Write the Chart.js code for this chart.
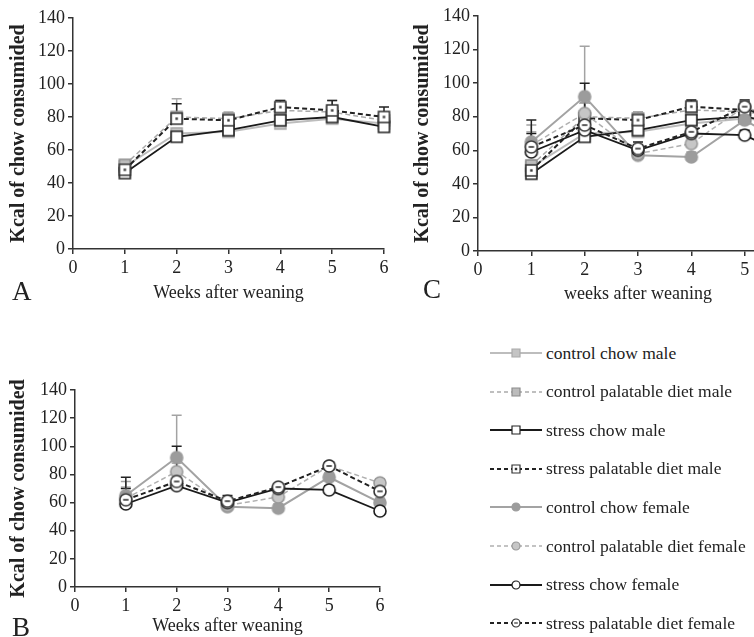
<!DOCTYPE html>
<html>
<head>
<meta charset="utf-8">
<script src="https://cdn.jsdelivr.net/npm/chart.js@4.4.1/dist/chart.umd.min.js"></script>
<style>
body { margin: 0; width: 754px; height: 637px; overflow: hidden; background: #fff; position: relative;
       font-family: "Liberation Serif", "DejaVu Serif", serif; }
canvas { position: absolute; }
.letter { position: absolute; font-size: 27px; color: #222; line-height: 1; }
.row { position: absolute; left: 490px; height: 24px; display: flex; align-items: center;
       white-space: nowrap; font-size: 17.5px; color: #222; }
.row canvas { position: static; margin-right: 4px; }
</style>
</head>
<body>
<canvas id="chartA" width="400" height="310" style="left:0;top:0"></canvas>
<canvas id="chartB" width="400" height="277" style="left:0;top:360px"></canvas>
<canvas id="chartC" width="420" height="310" style="left:400px;top:0"></canvas>
<div class="letter" style="left:12px;top:278px">A</div>
<div class="letter" style="left:12px;top:614px">B</div>
<div class="letter" style="left:423px;top:276px">C</div>
<div id="legend"></div>

<script>
// weeks after weaning
const WEEKS = [1, 2, 3, 4, 5, 6];

// mean kcal per week
const controlChowMale     = [50, 70, 71, 76, 79, 76];
const controlPalMale      = [51, 80, 79, 84, 83, 78];
const stressChowMale      = [46, 68, 72, 78, 80, 74];
const stressPalMale       = [48, 79, 78, 86, 84, 80];
const controlChowFemale   = [65, 92, 57, 56, 78, 60];
const controlPalFemale    = [63, 82, 58, 64, 86, 74];
const stressChowFemale    = [59, 72, 60, 70, 69, 54];
const stressPalFemale     = [62, 75, 61, 71, 86, 68];

// upper error (SEM)
const errControlChowMale   = [2, 3, 2, 2, 2, 2];
const errControlPalMale    = [2, 11, 4, 6, 7, 5];
const errStressChowMale    = [2, 2, 2, 2, 2, 2];
const errStressPalMale     = [2, 9, 3, 4, 6, 6];
const errControlChowFemale = [10, 30, 3, 3, 3, 3];
const errControlPalFemale  = [8, 6, 3, 3, 3, 3];
const errStressChowFemale  = [11, 4, 3, 2, 3, 2];
const errStressPalFemale   = [16, 25, 4, 2, 3, 3];

const X_MIN = 0, X_MAX = 6, X_STEP = 1;
const Y_MIN = 0, Y_MAX = 140, Y_STEP = 20;

const Y_TITLE = 'Kcal of chow consumided';
const FONT = '"Liberation Serif", "DejaVu Serif", serif';

const LIGHT = '#bdbdbd';
const MID = '#a3a3a3';
const DARK = '#1a1a1a';

// series styles
const SERIES = [
    { label: 'control chow male', data: controlChowMale, err: errControlChowMale, male: true,
      color: LIGHT, dash: [], width: 2, marker: { shape: 'sq', fill: '#c4c4c4', stroke: '#aaaaaa' } },
    { label: 'control palatable diet male', data: controlPalMale, err: errControlPalMale, male: true,
      color: '#aaaaaa', dash: [5, 3], width: 1.5, marker: { shape: 'sq', fill: '#bcbcbc', stroke: '#8c8c8c' } },
    { label: 'stress chow male', data: stressChowMale, err: errStressChowMale, male: true,
      color: DARK, dash: [], width: 1.8, marker: { shape: 'sq', fill: '#ffffff', stroke: '#222222' } },
    { label: 'stress palatable diet male', data: stressPalMale, err: errStressPalMale, male: true,
      color: '#222222', dash: [5, 3], width: 2, marker: { shape: 'sq', fill: '#ffffff', stroke: '#333333', inner: 'dot' } },
    { label: 'control chow female', data: controlChowFemale, err: errControlChowFemale, male: false,
      color: MID, dash: [], width: 2, marker: { shape: 'ci', fill: '#9c9c9c', stroke: '#9c9c9c' } },
    { label: 'control palatable diet female', data: controlPalFemale, err: errControlPalFemale, male: false,
      color: '#b0b0b0', dash: [5, 3], width: 1.5, marker: { shape: 'ci', fill: '#c6c6c6', stroke: '#999999' } },
    { label: 'stress chow female', data: stressChowFemale, err: errStressChowFemale, male: false,
      color: DARK, dash: [], width: 1.8, marker: { shape: 'ci', fill: '#ffffff', stroke: '#1a1a1a' } },
    { label: 'stress palatable diet female', data: stressPalFemale, err: errStressPalFemale, male: false,
      color: '#222222', dash: [5, 3], width: 2, marker: { shape: 'ci', fill: '#ffffff', stroke: '#333333', inner: 'dash' } },
];

// draw a marker onto its own small canvas (used as pointStyle and in the legend)
function makeMarker(m, size) {
    const pad = 2;
    const c = document.createElement('canvas');
    c.width = c.height = Math.ceil(size + pad * 2);
    const ctx = c.getContext('2d');
    const mid = c.width / 2, r = size / 2;
    ctx.lineWidth = size > 10 ? 1.6 : 1.2;
    ctx.beginPath();
    if (m.shape === 'sq') ctx.rect(mid - r, mid - r, size, size);
    else ctx.arc(mid, mid, r, 0, Math.PI * 2);
    ctx.fillStyle = m.fill;
    ctx.fill();
    ctx.strokeStyle = m.stroke;
    ctx.stroke();
    if (m.inner === 'dot') {
        ctx.fillStyle = m.stroke;
        ctx.fillRect(mid - 1.2, mid - 1.2, 2.4, 2.4);
    }
    if (m.inner === 'dash') {
        ctx.beginPath();
        ctx.moveTo(mid - r * 0.45, mid);
        ctx.lineTo(mid + r * 0.45, mid);
        ctx.stroke();
    }
    return c;
}

// error bars (upper only), drawn under the markers
const errorBars = {
    id: 'errorBars',
    beforeDatasetsDraw(chart) {
        const ctx = chart.ctx;
        const xs = chart.scales.x, ys = chart.scales.y;
        ctx.save();
        chart.data.datasets.forEach(ds => {
            ctx.strokeStyle = ds.borderColor;
            ctx.lineWidth = 1.5;
            ds.data.forEach((p, i) => {
                const x = xs.getPixelForValue(p.x);
                const y0 = ys.getPixelForValue(p.y);
                const y1 = ys.getPixelForValue(p.y + ds.err[i]);
                ctx.beginPath();
                ctx.moveTo(x, y0);
                ctx.lineTo(x, y1);
                ctx.moveTo(x - 5, y1);
                ctx.lineTo(x + 5, y1);
                ctx.stroke();
            });
        });
        ctx.restore();
    }
};

function buildDatasets(list) {
    return list.map((s, i) => ({
        label: s.label,
        data: WEEKS.map((w, k) => ({ x: w, y: s.data[k] })),
        err: s.err,
        borderColor: s.color,
        borderWidth: s.width,
        borderDash: s.dash,
        pointStyle: makeMarker(s.marker, s.marker.shape === 'sq' ? 11 : 12),
        pointRadius: 6,
        tension: 0,
        fill: false,
        clip: false,
        order: list.length - i   // stress groups end up on top
    }));
}

function makeChart(id, list, cfg) {
    const axisColor = '#333';
    new Chart(document.getElementById(id), {
        type: 'line',
        data: { datasets: buildDatasets(list) },
        options: {
            responsive: false,
            animation: false,
            layout: { padding: cfg.padding },
            plugins: { legend: { display: false }, tooltip: { enabled: false } },
            scales: {
                x: {
                    type: 'linear', min: X_MIN, max: X_MAX,
                    ticks: { stepSize: X_STEP, color: '#222', padding: 3, maxRotation: 0,
                             font: { family: FONT, size: 18 } },
                    grid: { drawOnChartArea: false, drawTicks: true, tickLength: 5, color: axisColor, lineWidth: 1.5 },
                    border: { display: true, color: axisColor, width: 1.5 },
                    title: { display: true, text: cfg.xTitle, color: '#222',
                             font: { family: FONT, size: 18 }, padding: { top: 0, bottom: cfg.xTitlePad } },
                    afterFit(scale) { scale.height = cfg.xHeight; }
                },
                y: {
                    min: Y_MIN, max: Y_MAX,
                    ticks: { stepSize: Y_STEP, color: '#222', padding: 3,
                             font: { family: FONT, size: 18 } },
                    grid: { drawOnChartArea: false, drawTicks: true, tickLength: 5, color: axisColor, lineWidth: 1.5 },
                    border: { display: true, color: axisColor, width: 1.5 },
                    title: { display: true, text: Y_TITLE, color: '#222',
                             font: { family: FONT, size: 20, weight: 'bold' }, padding: { top: cfg.yTitlePad, bottom: 0 } },
                    afterFit(scale) { scale.width = cfg.yWidth; }
                }
            }
        },
        plugins: [errorBars]
    });
}

makeChart('chartA', SERIES.filter(s => s.male), {
    padding: { top: 18, right: 16, left: 0, bottom: 0 },
    xTitle: 'Weeks after weaning', xHeight: 61, xTitlePad: 6, yWidth: 73, yTitlePad: 7
});
makeChart('chartB', SERIES.filter(s => !s.male), {
    padding: { top: 30, right: 20, left: 0, bottom: 0 },
    xTitle: 'Weeks after weaning', xHeight: 50, xTitlePad: 0, yWidth: 75, yTitlePad: 7
});
makeChart('chartC', SERIES, {
    padding: { top: 16, right: 22, left: 0, bottom: 0 },
    xTitle: 'weeks after weaning', xHeight: 59, xTitlePad: 5, yWidth: 78, yTitlePad: 11
});

// legend
const ROW_TOP = 341, ROW_GAP = 38.6;
const legend = document.getElementById('legend');
SERIES.forEach((s, i) => {
    const row = document.createElement('div');
    row.className = 'row';
    row.style.top = (ROW_TOP + i * ROW_GAP) + 'px';
    const c = document.createElement('canvas');
    c.width = 52; c.height = 20;
    const ctx = c.getContext('2d');
    ctx.strokeStyle = s.color;
    ctx.lineWidth = s.width;
    ctx.setLineDash(s.dash.length ? [4, 3] : []);
    ctx.beginPath();
    ctx.moveTo(0, 10);
    ctx.lineTo(52, 10);
    ctx.stroke();
    const mk = makeMarker(s.marker, 8);
    ctx.drawImage(mk, 26 - mk.width / 2, 10 - mk.height / 2);
    const t = document.createElement('span');
    t.textContent = s.label;
    row.appendChild(c);
    row.appendChild(t);
    legend.appendChild(row);
});
</script>
</body>
</html>
